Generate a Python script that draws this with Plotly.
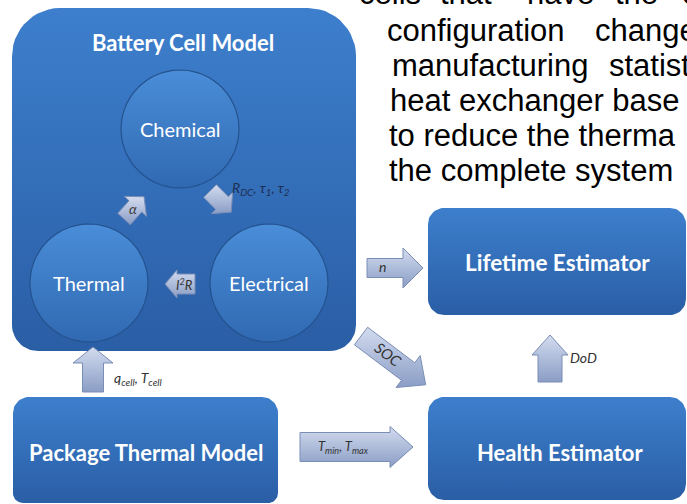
import numpy as np
import plotly.graph_objects as go

# ---------------- content (text of the diagram) ----------------
box_labels = ["Battery Cell Model", "Lifetime Estimator", "Health Estimator", "Package Thermal Model"]
circle_labels = ["Chemical", "Thermal", "Electrical"]
arrow_labels = [
    "<i>α</i>",
    "<i>R<sub>DC</sub>, τ<sub>1</sub>, τ<sub>2</sub></i>",
    "<i>I<sup>2</sup>R</i>",
    "<i>n</i>",
    "<i>SOC</i>",
    "<i>DoD</i>",
    "<i>T<sub>min</sub>, T<sub>max</sub></i>",
    "<i>q<sub>cell</sub>, T<sub>cell</sub></i>",
]
paragraph_words = [
    ["cells", "that", "have", "the", "c"],
    ["configuration", "change"],
    ["manufacturing", "statist"],
    ["heat exchanger base"],
    ["to reduce the therma"],
    ["the complete system"],
]

# ---------------- layout geometry (pixels, y downwards) ----------------
W, H = 687, 504
BOXES = [  # x0, y0, x1, y1, top radius, bottom radius, label x, label y, font size
    (12, 8, 356, 351, 48, 26, 183, 42, 22),
    (428, 208, 686, 315, 16, 16, 557, 262, 22.5),
    (428, 397, 686, 500, 16, 16, 560, 452, 22),
    (13, 397, 278, 503, 16, 10, 146, 452, 22),
]
CIRCLES = [(180, 129, 59), (89, 283, 59), (269, 283, 59)]
ARROWS = [  # tail x, tail y, angle deg (clockwise from +x), length, shaft w, head w, head len
    (124, 219, -48, 30, 17, 30, 13),
    (210, 191, 45, 30, 18, 30, 13),
    (195, 284, 180, 30, 20, 28, 12),
    (367, 268, 0, 56, 19, 40, 20),
    (361, 336, 37, 81, 22, 40, 22),
    (550, 382, -90, 47, 24, 36, 20),
    (300, 447, 0, 113, 29, 41, 23),
    (93, 392, -90, 45, 21, 40, 16),
]
ARROW_TEXT = [  # x, y, xanchor, angle, size, color
    (133, 208, "center", 0, 14, "#3a3a3a"),
    (230, 188, "left", 0, 14, "#1d2f55"),
    (184, 284, "center", 0, 13, "#333333"),
    (382, 266, "center", 0, 14, "#333333"),
    (388, 354, "center", 37, 15, "#333333"),
    (568, 357, "left", 0, 14, "#333333"),
    (343, 447, "center", 0, 13, "#333333"),
    (112, 378, "left", 0, 14, "#333333"),
]
PARA_X = [[357, 438, 525, 613, 680], [385, 593], [390, 607], [388], [387], [387]]
PARA_BASE = [4, 41, 76, 111, 146, 181]
PARA_FS = 31

BOX_TOP, BOX_BOT = "#3d7fcd", "#2a5ea5"
CIR_TOP, CIR_BOT, CIR_LINE = "#4a8dd8", "#3069b2", "#24528e"
ARR_TOP, ARR_BOT, ARR_LINE = "#d3dcef", "#8a9dc5", "#7a8db5"


def rrect(x0, y0, x1, y1, rt, rb, n=14):
    pts = []
    for cx, cy, r, a0 in [(x0 + rt, y0 + rt, rt, 180), (x1 - rt, y0 + rt, rt, 270),
                          (x1 - rb, y1 - rb, rb, 0), (x0 + rb, y1 - rb, rb, 90)]:
        t = np.radians(np.linspace(a0, a0 + 90, n))
        pts += list(zip(cx + r * np.cos(t), cy + r * np.sin(t)))
    pts.append(pts[0])
    xs, ys = zip(*pts)
    return list(xs), list(ys)


def circle(cx, cy, r, n=90):
    t = np.linspace(0, 2 * np.pi, n)
    return list(cx + r * np.cos(t)), list(cy + r * np.sin(t))


def arrow(sx, sy, ang, L, ws, wh, lh):
    loc = [(0, -ws / 2), (L - lh, -ws / 2), (L - lh, -wh / 2), (L, 0),
           (L - lh, wh / 2), (L - lh, ws / 2), (0, ws / 2), (0, -ws / 2)]
    a = np.radians(ang)
    xs = [sx + u * np.cos(a) - v * np.sin(a) for u, v in loc]
    ys = [sy + u * np.sin(a) + v * np.cos(a) for u, v in loc]
    return xs, ys


def filled(xs, ys, top, bot, line_color, line_w):
    y0, y1 = min(ys), max(ys)
    return go.Scatter(
        x=xs, y=ys, mode="lines", fill="toself",
        fillgradient=dict(type="vertical", colorscale=[[0, top], [1, bot]], start=y0, stop=y1),
        line=dict(color=line_color, width=line_w), hoverinfo="skip", showlegend=False,
    )


fig = go.Figure()
annotations = []

# boxes
for (x0, y0, x1, y1, rt, rb, lx, ly, fs), label in zip(BOXES, box_labels):
    xs, ys = rrect(x0, y0, x1, y1, rt, rb)
    fig.add_trace(filled(xs, ys, BOX_TOP, BOX_BOT, "rgba(0,0,0,0)", 0))
    annotations.append(dict(x=lx, y=ly, text=f"<b>{label}</b>", showarrow=False,
                            font=dict(family="Lato", size=fs, color="white")))

# circles
for (cx, cy, r), label in zip(CIRCLES, circle_labels):
    xs, ys = circle(cx, cy, r)
    fig.add_trace(filled(xs, ys, CIR_TOP, CIR_BOT, CIR_LINE, 1.2))
    annotations.append(dict(x=cx, y=cy, text=label, showarrow=False,
                            font=dict(family="Lato", size=20, color="white")))

# arrows
for spec in ARROWS:
    xs, ys = arrow(*spec)
    fig.add_trace(filled(xs, ys, ARR_TOP, ARR_BOT, ARR_LINE, 1))
for (x, y, xa, ang, fs, col), label in zip(ARROW_TEXT, arrow_labels):
    annotations.append(dict(x=x, y=y, text=label, showarrow=False, xanchor=xa, textangle=ang,
                            font=dict(family="Lato", size=fs, color=col)))

# paragraph (text wrapped around the figure)
for words, xs, base in zip(paragraph_words, PARA_X, PARA_BASE):
    yc = base - 0.35 * PARA_FS
    for w, x in zip(words, xs):
        annotations.append(dict(x=x / W, y=1 - yc / H, xref="paper", yref="paper", text=w,
                                showarrow=False, xanchor="left", yanchor="middle",
                                font=dict(family="Liberation Sans", size=PARA_FS, color="black")))

fig.update_layout(
    width=W, height=H, margin=dict(l=0, r=0, t=0, b=0),
    paper_bgcolor="white", plot_bgcolor="white", showlegend=False,
    xaxis=dict(range=[0, W], visible=False, fixedrange=True),
    yaxis=dict(range=[H, 0], visible=False, fixedrange=True),
    annotations=annotations,
)
fig.write_html("out.html", config={"displayModeBar": False},
               post_script="document.body.style.margin='0';")
